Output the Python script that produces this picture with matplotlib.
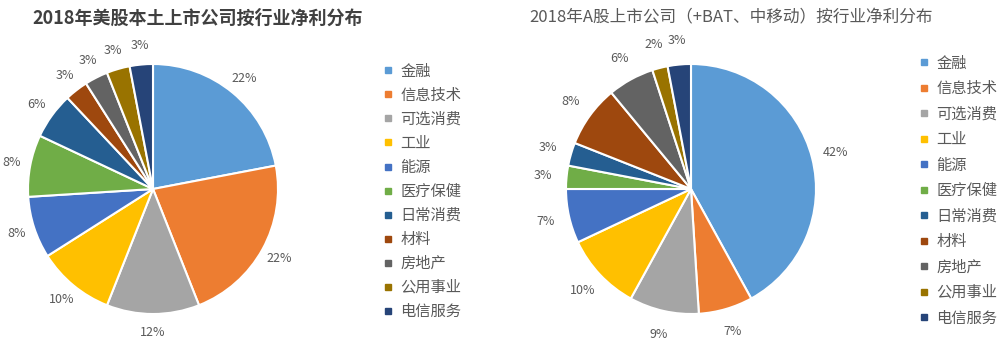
import matplotlib.pyplot as plt
from matplotlib.lines import Line2D

plt.rcParams['font.family'] = ['Noto Sans CJK SC', 'DejaVu Sans']

# ----------------------------------------------------------------------------------------------------------------------
# data

sectors = ['金融', '信息技术', '可选消费', '工业', '能源', '医疗保健', '日常消费', '材料', '房地产', '公用事业', '电信服务']
us_share = [22, 22, 12, 10, 8, 8, 6, 3, 3, 3, 3]
a_share = [42, 7, 9, 10, 7, 3, 3, 8, 6, 2, 3]
title_us = '2018年美股本土上市公司按行业净利分布'
title_a = '2018年A股上市公司（+BAT、中移动）按行业净利分布'

colors = ['#5B9BD5', '#ED7D31', '#A5A5A5', '#FFC000', '#4472C4', '#70AD47',
          '#255E91', '#9E480E', '#636363', '#997300', '#264478']

# ----------------------------------------------------------------------------------------------------------------------
# figure

W, H = 1005, 344
fig = plt.figure(figsize=(W / 100, H / 100), dpi=100)
fig.patch.set_facecolor('white')


def pie_axes(cx, cy, r):
    return fig.add_axes([(cx - r) / W, (H - cy - r) / H, 2 * r / W, 2 * r / H])


def draw_pie(ax, values, pctdist):
    wedges, texts, autotexts = ax.pie(values, colors=colors, startangle=90, counterclock=False,
                                      autopct='%d%%', pctdistance=pctdist,
                                      wedgeprops=dict(edgecolor='white', linewidth=1.5),
                                      textprops=dict(color='#595959', fontsize=9))
    ax.set_xlim(-1, 1)
    ax.set_ylim(-1, 1)
    ax.set_aspect('equal')
    ax.axis('off')
    return wedges


ax1 = pie_axes(153, 189, 125)
draw_pie(ax1, us_share, 1.15)
ax2 = pie_axes(691, 189, 125)
draw_pie(ax2, a_share, 1.19)

fig.text(198 / W, 1 - 18 / H, title_us, ha='center', va='center', fontsize=13, fontweight='bold', color='#404040')
fig.text(731 / W, 1 - 18 / H, title_a, ha='center', va='center', fontsize=12, color='#595959')

handles = [Line2D([], [], marker='s', linestyle='', markersize=5, color=c) for c in colors]

leg1 = fig.legend(handles, sectors, loc='upper left', bbox_to_anchor=(370 / W, 1 - 49 / H), frameon=False,
                  fontsize=11, labelspacing=0.46, handlelength=0.6, handletextpad=0.5, labelcolor='#595959')
leg2 = fig.legend(handles, sectors, loc='upper left', bbox_to_anchor=(906 / W, 1 - 41 / H), frameon=False,
                  fontsize=11, labelspacing=0.555, handlelength=0.6, handletextpad=0.5, labelcolor='#595959')

fig.savefig('out.png', dpi=100)
